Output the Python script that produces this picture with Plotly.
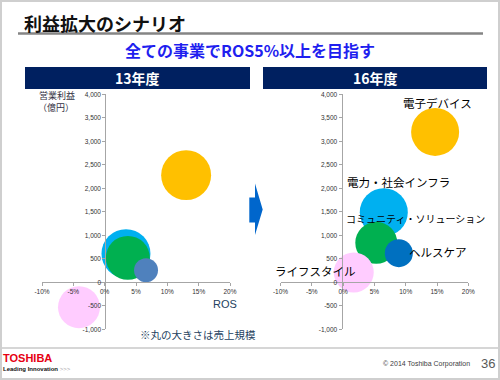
import plotly.graph_objects as go

# ---------------- data ----------------
segments = ["電子デバイス", "電力・社会インフラ", "コミュニティ・ソリューション", "ヘルスケア", "ライフスタイル"]
ros_13 = [13.0, 3.4, 3.7, 6.6, -4.1]          # ROS (%)
op_13 = [2280, 610, 520, 255, -530]            # 営業利益 (億円)
sales_13 = [18700, 18000, 14500, 4300, 13200]  # 売上規模 (bubble size)
ros_16 = [14.7, 6.5, 5.3, 8.9, 1.7]
op_16 = [3200, 1490, 840, 620, 210]
sales_16 = [17300, 17300, 13200, 5900, 12000]

colors_13 = ["#FFC000", "#00B0F0", "#00B050", "#4F81BD", "#FFCCFF"]
colors_16 = ["#FFC000", "#00B0F0", "#00B050", "#0070C0", "#FFCCFF"]

x_tickvals = [-10, -5, 0, 5, 10, 15, 20]
x_ticktext = ["-10%", "-5%", "0%", "5%", "10%", "15%", "20%"]
y_tickvals = [-1000, -500, 0, 500, 1000, 1500, 2000, 2500, 3000, 3500, 4000]
y_ticktext = ["-1,000", "-500", "0", "500", "1,000", "1,500", "2,000", "2,500", "3,000", "3,500", "4,000"]

W, H = 500, 380
def px(x):
    return x / W
def py(y):
    return 1 - y / H

JP = "Noto Sans CJK JP"
SIZEREF = 15

fig = go.Figure()
for i in range(len(segments)):
    fig.add_trace(go.Scatter(
        x=[ros_13[i]], y=[op_13[i]], mode="markers", name=segments[i],
        marker=dict(size=[sales_13[i]], sizemode="area", sizeref=SIZEREF,
                    color=colors_13[i], opacity=1, line=dict(width=0)),
        xaxis="x", yaxis="y", hoverinfo="skip", showlegend=False))
for i in range(len(segments)):
    fig.add_trace(go.Scatter(
        x=[ros_16[i]], y=[op_16[i]], mode="markers", name=segments[i],
        marker=dict(size=[sales_16[i]], sizemode="area", sizeref=SIZEREF,
                    color=colors_16[i], opacity=1, line=dict(width=0)),
        xaxis="x2", yaxis="y2", hoverinfo="skip", showlegend=False))

tickfont = dict(family="Liberation Sans, Arial", size=6.5, color="#333333")
ydom = [py(329.3), py(94.3)]
common_x = dict(range=[-10, 20], tickvals=x_tickvals, ticktext=x_ticktext,
                showgrid=False, zeroline=False, showline=True, linecolor="#A6A6A6",
                linewidth=1, ticks="outside", ticklen=3, tickcolor="#A6A6A6",
                tickfont=tickfont, anchor="free", position=py(282.3), fixedrange=True)
common_y = dict(range=[-1000, 4000], tickvals=y_tickvals, ticktext=y_ticktext,
                showgrid=False, zeroline=False, showline=True, linecolor="#A6A6A6",
                linewidth=1, ticks="outside", ticklen=3, tickcolor="#A6A6A6",
                tickfont=tickfont, anchor="free", domain=ydom, fixedrange=True)

fig.update_layout(
    width=W, height=H, margin=dict(l=0, r=0, t=0, b=0, autoexpand=False),
    paper_bgcolor="white", plot_bgcolor="rgba(0,0,0,0)",
    xaxis=dict(domain=[px(42), px(230)], **common_x),
    yaxis=dict(position=px(105.3), **common_y),
    xaxis2=dict(domain=[px(280.5), px(468.3)], **common_x),
    yaxis2=dict(position=px(341.5), **common_y),
)

shapes = []
# slide border
shapes.append(dict(type="rect", xref="paper", yref="paper", x0=px(1), x1=px(499), y0=py(379), y1=py(1),
                   line=dict(color="#CFCFCF", width=2), fillcolor="rgba(0,0,0,0)", layer="below"))
# title underline
shapes.append(dict(type="line", xref="paper", yref="paper", x0=px(18), x1=px(483), y0=py(33.5), y1=py(33.5),
                   line=dict(color="#858585", width=2.5)))
# footer separator
shapes.append(dict(type="line", xref="paper", yref="paper", x0=px(2), x1=px(498), y0=py(348), y1=py(348),
                   line=dict(color="#C8C8C8", width=1.5)))
# header bars
for x0, x1 in [(25, 250), (263, 487)]:
    shapes.append(dict(type="rect", xref="paper", yref="paper", x0=px(x0), x1=px(x1), y0=py(89), y1=py(67),
                       line=dict(width=0), fillcolor="#002060", layer="below"))
# arrow
pts = [(249.3, 197.5), (255, 197.5), (255, 183.5), (262.7, 209.5), (255, 235), (255, 222.5), (249.3, 222.5)]
path = "M " + " L ".join(f"{px(a):.4f},{py(b):.4f}" for a, b in pts) + " Z"
shapes.append(dict(type="path", xref="paper", yref="paper", path=path,
                   line=dict(width=0), fillcolor="#0066CC"))
fig.update_layout(shapes=shapes)

def ann(text, x, y, size, color="#000000", xanchor="center", family=JP):
    fig.add_annotation(text=text, xref="paper", yref="paper", x=px(x), y=py(y),
                       xanchor=xanchor, yanchor="middle", showarrow=False, borderpad=0,
                       font=dict(family=family, size=size, color=color))

ann("<b>利益拡大のシナリオ</b>", 23, 23, 18, "#111111", xanchor="left")
ann("<b>全ての事業でROS5%以上を目指す</b>", 250, 50, 16, "#1F1FEF")
ann("<b>13年度</b>", 137.5, 78, 14, "#FFFFFF")
ann("<b>16年度</b>", 375, 78, 14, "#FFFFFF")
ann("営業利益", 57, 95.5, 9, "#333344")
ann("（億円）", 56, 107.5, 9, "#333344")
ann("ROS", 225, 304, 11, "#243F60", family="Liberation Sans, Arial")
ann("※丸の大きさは売上規模", 198, 334.5, 10.5, "#243F60")

# segment labels (16年度)
ann("電子デバイス", 437, 103, 11.5)
ann("電力・社会インフラ", 398, 182, 11.5)
ann("コミュニティ・ソリューション", 415, 218.5, 10)
ann("ヘルスケア", 438, 252, 11.5)
ann("ライフスタイル", 315, 271, 11.5)

# footer
ann("<b>TOSHIBA</b>", 2, 358, 11, "#E60012", xanchor="left", family="Liberation Sans, Arial")
ann("<b>Leading Innovation</b> <span style='color:#AAAAAA'>&gt;&gt;&gt;</span>", 2, 368.5, 6, "#111111",
    xanchor="left", family="Liberation Sans, Arial")
ann("© 2014 Toshiba Corporation", 382, 363.5, 7, "#404040", xanchor="left", family="Liberation Sans, Arial")
ann("36", 488, 363, 13, "#595959", family="Liberation Sans, Arial")

fig.write_html("out.html", config={"displayModeBar": False},
               post_script="document.body.style.margin='0';document.body.style.overflow='hidden';")
